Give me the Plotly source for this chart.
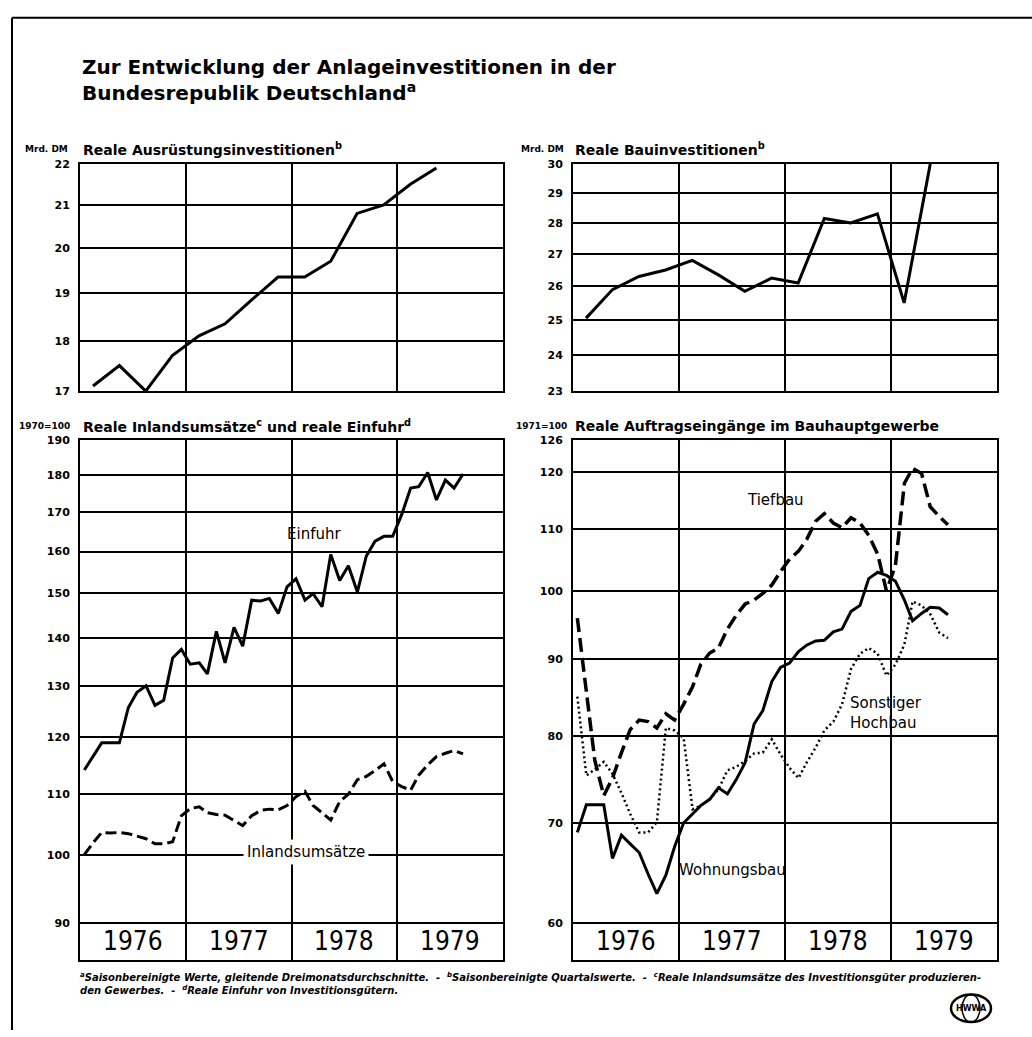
import numpy as np
import pandas as pd
import plotly.graph_objects as go

W, H = 1032, 1037

# Quartalswerte (Mrd. DM), 1976 Q1 - 1979 Q2
quarters = pd.period_range("1976Q1", "1979Q2", freq="Q")
ausruestung = [17.1, 17.5, 17.0, 17.7, 18.1, 18.35, 18.85, 19.35, 19.35, 19.7, 20.8, 21.0, 21.5, 21.9]
bau = [25.05, 25.9, 26.3, 26.5, 26.8, 26.35, 25.85, 26.25, 26.1, 28.15, 28.0, 28.3, 25.5, 30.0]

# Monatswerte 1976-01 ... 1979-08 (1970=100)
months_l = pd.period_range("1976-01", "1979-08", freq="M")
einfuhr = [114.1, 116.5, 119.0, 119.0, 119.0, 125.7, 128.7, 130.0, 126.1, 127.1, 135.7, 137.5,
           134.4, 134.7, 132.4, 141.4, 134.7, 142.3, 138.2, 148.4, 148.2, 148.8, 145.4, 151.5,
           153.4, 148.4, 149.9, 146.9, 159.3, 153.0, 156.5, 150.3, 158.9, 162.6, 163.8, 163.8,
           169.4, 176.5, 176.9, 180.8, 173.3, 178.7, 176.5, 180.4]
inland = [100.1, 102.0, 103.6, 103.5, 103.6, 103.4, 103.0, 102.6, 101.8, 101.8, 102.1, 106.3,
          107.5, 107.8, 106.8, 106.5, 106.4, 105.6, 104.7, 106.3, 107.2, 107.4, 107.3, 108.0,
          109.5, 110.4, 108.0, 106.8, 105.6, 108.7, 109.9, 112.4, 113.0, 114.0, 115.2, 112.1,
          111.2, 110.6, 113.2, 115.0, 116.5, 117.1, 117.6, 117.0]

# Monatswerte 1976-01 ... 1979-07 (1971=100)
months_r = pd.period_range("1976-01", "1979-07", freq="M")
tiefbau = [95.9, 85.3, 77.1, 73.0, 75.0, 78.0, 80.8, 82.0, 81.8, 81.0, 82.8, 82.0,
           84.0, 86.3, 89.3, 90.9, 91.6, 94.3, 96.3, 98.0, 98.6, 99.6, 100.9, 103.0,
           105.0, 106.3, 108.2, 111.3, 112.6, 111.0, 110.2, 111.9, 111.0, 108.9, 105.8, 100.0,
           104.0, 118.0, 120.7, 119.8, 113.8, 112.1, 110.7]
wohnungsbau = [69.0, 72.0, 72.0, 72.0, 66.3, 68.7, 67.8, 66.9, 64.7, 62.8, 64.6, 67.5,
               70.0, 71.0, 71.9, 72.6, 73.9, 73.2, 74.8, 76.8, 81.5, 83.2, 87.0, 88.9,
               89.5, 91.1, 92.0, 92.6, 92.7, 93.9, 94.3, 96.9, 97.8, 101.9, 102.9, 102.4,
               101.5, 98.6, 95.5, 96.6, 97.5, 97.4, 96.4]
sonst_hochbau = [85.0, 75.3, 76.0, 76.9, 75.5, 73.3, 71.0, 69.0, 69.0, 70.1, 81.0, 80.7,
                 79.8, 71.5, 71.9, 72.6, 73.7, 75.9, 76.3, 77.0, 77.9, 78.0, 79.6, 77.8,
                 76.2, 75.0, 76.8, 78.6, 80.7, 81.8, 84.0, 88.7, 90.8, 91.6, 90.8, 87.8,
                 89.3, 92.1, 98.4, 97.8, 96.5, 93.8, 93.0]

years = ["1976", "1977", "1978", "1979"]
ticks_tl = [17, 18, 19, 20, 21, 22]
ticks_tr = [23, 24, 25, 26, 27, 28, 29, 30]
ticks_bl = [90, 100, 110, 120, 130, 140, 150, 160, 170, 180, 190]
ticks_br = [60, 70, 80, 90, 100, 110, 120, 126]

xq = quarters.to_timestamp(how="start") + pd.Timedelta(days=45)
xl = months_l.to_timestamp(how="start") + pd.Timedelta(days=15)
xr = months_r.to_timestamp(how="start") + pd.Timedelta(days=15)


def P(x, y):
    return x / W, 1 - y / H


fig = go.Figure()
fig.add_trace(go.Scatter(x=xq, y=ausruestung, xaxis="x", yaxis="y", mode="lines",
                         line=dict(color="black", width=3)))
fig.add_trace(go.Scatter(x=xq, y=bau, xaxis="x2", yaxis="y2", mode="lines",
                         line=dict(color="black", width=3)))
fig.add_trace(go.Scatter(x=xl, y=einfuhr, xaxis="x3", yaxis="y3", mode="lines",
                         line=dict(color="black", width=3)))
fig.add_trace(go.Scatter(x=xl, y=inland, xaxis="x3", yaxis="y3", mode="lines",
                         line=dict(color="black", width=3, dash="11px,5px")))
fig.add_trace(go.Scatter(x=xr, y=tiefbau, xaxis="x4", yaxis="y4", mode="lines",
                         line=dict(color="black", width=3.5, dash="14px,6px")))
fig.add_trace(go.Scatter(x=xr, y=sonst_hochbau, xaxis="x4", yaxis="y4", mode="lines",
                         line=dict(color="black", width=2.5, dash="2px,3px")))
fig.add_trace(go.Scatter(x=xr, y=wohnungsbau, xaxis="x4", yaxis="y4", mode="lines",
                         line=dict(color="black", width=3)))

dom_l = [80 / W, 503 / W]
dom_r = [573 / W, 997 / W]
dom_top = [1 - 390 / H, 1 - 160 / H]
dom_bot = [1 - 966 / H, 1 - 440 / H]

tickfont = dict(family="DejaVu Sans", size=11, color="black", weight="bold")
narrow = "DejaVu Sans Condensed, Liberation Sans Narrow, Roboto Condensed, Liberation Sans, sans-serif"


def xax(domain, anchor):
    return dict(domain=domain, anchor=anchor, type="date",
                range=["1976-01-01", "1980-01-01"],
                tickvals=["1977-01-01", "1978-01-01", "1979-01-01"],
                showticklabels=False, ticks="", showgrid=True,
                gridcolor="black", gridwidth=1.5, zeroline=False,
                showline=True, linecolor="black", linewidth=2, mirror=True)


def yax(domain, anchor, rng, ticks, gw):
    return dict(domain=domain, anchor=anchor, type="log", range=rng,
                tickvals=ticks, ticktext=[str(t) for t in ticks],
                showgrid=True, gridcolor="black", gridwidth=gw, zeroline=False,
                showline=True, linecolor="black", linewidth=2, mirror=True,
                ticks="", tickfont=tickfont, ticklabelstandoff=6)


ybl_lo = np.log10(90) - 37 / (489 / np.log10(190 / 90))
ybr_lo = np.log10(60) - 37 / (489 / np.log10(126 / 60))

fig.update_layout(
    width=W, height=H, autosize=False, showlegend=False,
    margin=dict(l=0, r=0, t=0, b=0),
    paper_bgcolor="white", plot_bgcolor="white",
    font=dict(family="DejaVu Sans", color="black"),
    xaxis=xax(dom_l, "y"), yaxis=yax(dom_top, "x", [np.log10(17), np.log10(22)], ticks_tl, 2),
    xaxis2=xax(dom_r, "y2"), yaxis2=yax(dom_top, "x2", [np.log10(23), np.log10(30)], ticks_tr, 2),
    xaxis3=xax(dom_l, "y3"), yaxis3=yax(dom_bot, "x3", [ybl_lo, np.log10(190)], ticks_bl, 1.8),
    xaxis4=xax(dom_r, "y4"), yaxis4=yax(dom_bot, "x4", [ybr_lo, np.log10(126)], ticks_br, 1.8),
)

ann = []


def text(px, py, s, size=14, xanchor="left", yanchor="middle", family="DejaVu Sans", weight="normal", **kw):
    x, y = P(px, py)
    ann.append(dict(x=x, y=y, xref="paper", yref="paper", text=s, showarrow=False,
                    xanchor=xanchor, yanchor=yanchor, align="left",
                    font=dict(family=family, size=size, color="black", weight=weight), **kw))


text(80, 75, "Zur Entwicklung der Anlageinvestitionen in der<br>Bundesrepublik Deutschland<sup>a</sup>",
     size=20, weight="bold")

text(70, 145, "Mrd. DM", size=9, xanchor="right", weight="bold")
text(81, 145, "Reale Ausrüstungsinvestitionen<sup>b</sup>", size=14, weight="bold")
text(566, 145, "Mrd. DM", size=9, xanchor="right", weight="bold")
text(573, 145, "Reale Bauinvestitionen<sup>b</sup>", size=14, weight="bold")
text(72, 425, "1970=100", size=9, xanchor="right", weight="bold")
text(81, 425, "Reale Inlandsumsätze<sup>c</sup> und reale Einfuhr<sup>d</sup>", size=14, weight="bold")
text(569, 425, "1971=100", size=9, xanchor="right", weight="bold")
text(573, 425, "Reale Auftragseingänge im Bauhauptgewerbe", size=14, weight="bold")

text(314, 535, "Einfuhr", size=15, xanchor="center")
text(306, 857, "Inlandsumsätze", size=15, xanchor="center", bgcolor="white", borderpad=3)
text(775, 500, "Tiefbau", size=15, xanchor="center")
text(848, 716, "Sonstiger<br>Hochbau", size=15)
text(677, 875, "Wohnungsbau", size=15)

for ax in ["3", "4"]:
    for yr in years:
        ann.append(dict(x=f"{yr}-07-02", y=0.036, xref="x" + ax, yref=f"y{ax} domain",
                        text=yr, showarrow=False, xanchor="center", yanchor="middle",
                        font=dict(family=narrow, size=26, color="black")))

foot1 = ("<sup>a</sup>Saisonbereinigte Werte, gleitende Dreimonatsdurchschnitte.  -  "
         "<sup>b</sup>Saisonbereinigte Quartalswerte.  -  "
         "<sup>c</sup>Reale Inlandsumsätze des Investitionsgüter produzieren-")
foot2 = "den Gewerbes.  -  <sup>d</sup>Reale Einfuhr von Investitionsgütern."
text(78, 983, f"<b><i>{foot1}</i></b>", size=10)
text(78, 996, f"<b><i>{foot2}</i></b>", size=10)

# HWWA-Logo
text(971, 1015, "<b>HWWA</b>", size=8, xanchor="center")

fig.update_layout(annotations=ann)

shapes = []
x0, y0 = P(12, 12)
x1, _ = P(W, 12)
shapes.append(dict(type="line", xref="paper", yref="paper", x0=x0, y0=y0, x1=x1, y1=y0,
                   line=dict(color="black", width=2)))
_, yb = P(12, H)
shapes.append(dict(type="line", xref="paper", yref="paper", x0=x0, y0=y0, x1=x0, y1=yb,
                   line=dict(color="black", width=2)))
lx0, ly0 = P(951, 1001)
lx1, ly1 = P(991, 1029)
shapes.append(dict(type="circle", xref="paper", yref="paper", x0=lx0, y0=ly0, x1=lx1, y1=ly1,
                   line=dict(color="black", width=2.5)))
mx0, _ = P(962, 0)
mx1, _ = P(980, 0)
shapes.append(dict(type="circle", xref="paper", yref="paper", x0=mx0, y0=ly0, x1=mx1, y1=ly1,
                   line=dict(color="black", width=1.5)))
fig.update_layout(shapes=shapes)

fig.write_html("out.html", config={"displayModeBar": False},
               post_script="document.body.style.margin='0px';")
